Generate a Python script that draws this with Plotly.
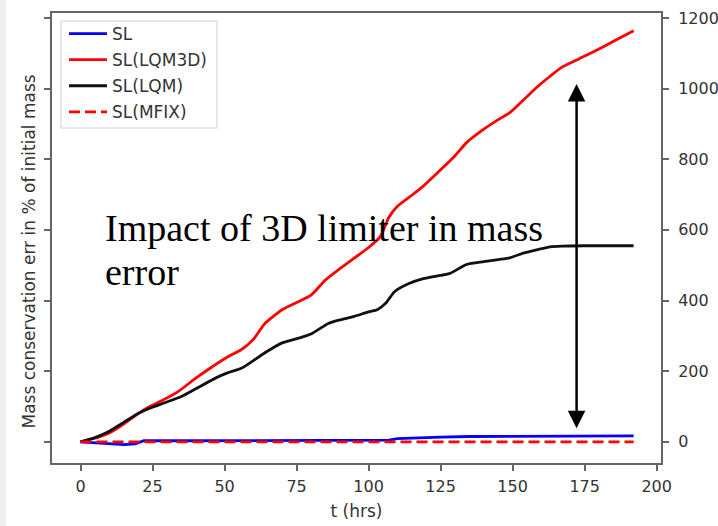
import plotly.graph_objects as go

# ---- data ----
t_lqm3d = [0, 5, 10, 15, 20, 24, 29, 34, 40, 46, 51, 56, 60, 64, 70, 76, 80, 85, 90, 95,
           100, 104, 107, 110, 115, 119, 125, 130, 134, 140, 145, 149, 154, 159, 163, 167,
           173, 180, 186, 192]
v_lqm3d = [0, 10, 25, 50, 80, 100, 120, 143, 180, 214, 240, 262, 290, 335, 374, 398, 415,
           458, 490, 520, 550, 580, 635, 667, 698, 724, 770, 810, 847, 885, 912, 932, 970,
           1008, 1035, 1060, 1084, 1112, 1138, 1164]

t_lqm = [0, 5, 10, 15, 20, 24, 29, 35, 40, 47, 51, 56, 60, 64, 70, 76, 80, 86, 90, 95,
         100, 103, 106, 109, 114, 119, 124, 128, 134, 140, 145, 149, 154, 159, 163, 167,
         175, 185, 192]
v_lqm = [0, 12, 30, 55, 80, 95, 110, 128, 150, 181, 195, 209, 230, 252, 280, 294, 305,
         335, 345, 355, 368, 374, 393, 425, 448, 462, 470, 476, 502, 510, 516, 521, 535,
         545, 552, 554, 555, 555, 555]

t_sl = [0, 5, 10, 15, 19, 22, 40, 60, 80, 100, 107, 110, 115, 125, 135, 150, 160, 175, 192]
v_sl = [0, -3, -7, -8, -6, 3, 3, 3, 4, 4, 5, 9, 11, 13, 15, 16, 17, 17, 17]

t_mfix = [0, 48, 96, 144, 192]
v_mfix = [0, 0, 0, 0, 0]

x_ticks = [0, 25, 50, 75, 100, 125, 150, 175, 200]
y_ticks = [0, 200, 400, 600, 800, 1000, 1200]

x_range = [-9.9, 201.5]
y_range = [-60, 1214]

note_lines = ["Impact of 3D limiter in mass", "error"]

tick_font = dict(family="DejaVu Sans", size=16, color="#333333")
label_font = dict(family="DejaVu Sans", size=17, color="#333333")
axis_col = "#666666"

PW, PH = 609, 450  # plot area size in px (for paper-coordinate placement)

fig = go.Figure()
fig.add_trace(go.Scatter(x=t_sl, y=v_sl, mode="lines", name="SL", legendgroup="a",
                         line=dict(color="#0000ff", width=2.8)))
fig.add_trace(go.Scatter(x=t_lqm3d, y=v_lqm3d, mode="lines", name="SL(LQM3D)", legendgroup="b",
                         line=dict(color="#ff0000", width=2.8, shape="spline", smoothing=0.6)))
fig.add_trace(go.Scatter(x=t_lqm, y=v_lqm, mode="lines", name="SL(LQM)", legendgroup="c",
                         line=dict(color="#111111", width=2.8, shape="spline", smoothing=0.6)))
fig.add_trace(go.Scatter(x=t_mfix, y=v_mfix, mode="lines", name="SL(MFIX)", legendgroup="d",
                         yaxis="y2",
                         line=dict(color="#ff0000", width=2.8, dash="11px,5px")))

fig.update_layout(
    width=718, height=526,
    margin=dict(l=52, r=57, t=13, b=63),
    paper_bgcolor="white", plot_bgcolor="white",
    showlegend=True,
    xaxis=dict(range=x_range, tickvals=x_ticks, showgrid=False, zeroline=False,
               ticks="outside", ticklen=6, tickwidth=1.5, tickcolor=axis_col,
               showline=True, linecolor=axis_col, linewidth=2, mirror=True,
               tickfont=tick_font, ticklabelstandoff=2, automargin=False,
               title=dict(text="t (hrs)", font=label_font, standoff=10)),
    yaxis=dict(range=y_range, tickvals=y_ticks, showticklabels=False, showgrid=False,
               zeroline=False, ticks="outside", ticklen=6, tickwidth=1.5, tickcolor=axis_col,
               showline=True, linecolor=axis_col, linewidth=2, mirror=True, automargin=False),
    yaxis2=dict(range=y_range, tickvals=y_ticks, overlaying="y", side="right",
                showgrid=False, zeroline=False, ticks="outside", ticklen=6, tickwidth=1.5,
                tickcolor=axis_col, showline=True, linecolor=axis_col, linewidth=2,
                tickfont=tick_font, ticklabelstandoff=6, automargin=False),
    legend=dict(x=(64 - 52) / PW, y=1 - 3 / PH, xanchor="left", yanchor="top",
                bgcolor="rgba(0,0,0,0)", borderwidth=0, itemwidth=38,
                font=label_font, tracegroupgap=1, traceorder="grouped"),
)

# legend frame
fig.add_shape(type="rect", xref="paper", yref="paper",
              x0=(61 - 52) / PW, x1=(217 - 52) / PW,
              y0=(463 - 128) / PH, y1=(463 - 21) / PH,
              fillcolor="rgba(255,255,255,0.85)", line=dict(color="#d0d0d0", width=1),
              layer="above")

fig.add_annotation(text="Mass conservation err in % of initial mass", textangle=-90,
                   xref="paper", yref="paper", x=0, y=0.47, xshift=-24,
                   xanchor="center", yanchor="middle", showarrow=False, font=label_font)

for i, line in enumerate(note_lines):
    fig.add_annotation(text=line, xref="paper", yref="paper",
                       x=(103 - 52) / PW, y=(463 - (205 + 44 * i)) / PH,
                       xanchor="left", yanchor="top", align="left", showarrow=False,
                       font=dict(family="Liberation Serif", size=38, color="black"))

fig.add_annotation(text="", x=172.2, y=1013, ax=172.2, ay=34, xref="x", yref="y",
                   axref="x", ayref="y", showarrow=True, arrowhead=2, startarrowhead=2,
                   arrowside="end+start", arrowwidth=2.5, arrowsize=1.4, startarrowsize=1.4,
                   arrowcolor="black", standoff=0, startstandoff=0)

fig.add_shape(type="rect", xref="paper", yref="paper", x0=(0 - 52) / PW, x1=(6 - 52) / PW,
              y0=-63 / PH, y1=463 / PH, fillcolor="#f0f0f0", line=dict(width=0), layer="below")

fig.write_html("out.html")
